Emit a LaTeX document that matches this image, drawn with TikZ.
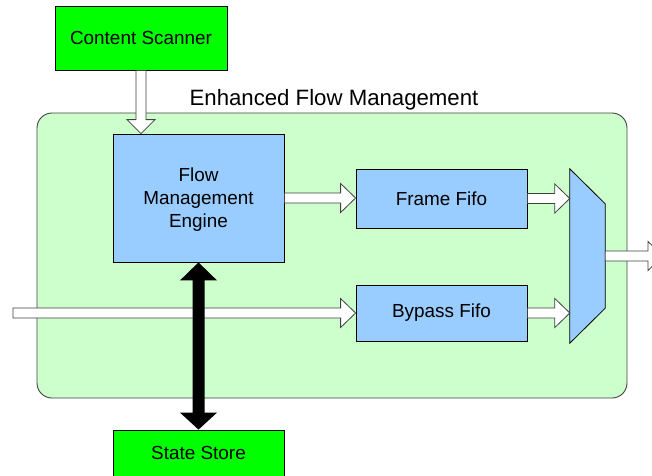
\documentclass[tikz,border=0pt]{standalone}
\usepackage{fontspec}
\setmainfont{Liberation Sans}
\usetikzlibrary{calc}

\definecolor{boxgreen}{HTML}{00FF00}
\definecolor{panelgreen}{HTML}{CCFFCC}
\definecolor{blockblue}{HTML}{99CCFF}
\definecolor{edgegray}{HTML}{404040}

% horizontal hollow block arrow from #1 to the x of #2, at the height of #1
\newcommand\hollowright[2]{%
  \draw[hollowarrow] let \p1=(#1), \p2=(#2) in
    (\x1,\y1+5pt) -- (\x2-15pt,\y1+5pt) -- (\x2-15pt,\y1+14.5pt) -- (\x2,\y1)
    -- (\x2-15pt,\y1-14.5pt) -- (\x2-15pt,\y1-5pt) -- (\x1,\y1-5pt) -- cycle;}
% vertical hollow block arrow pointing down from #1 to the y of #2
\newcommand\hollowdown[2]{%
  \draw[hollowarrow] let \p1=(#1), \p2=(#2) in
    (\x1-5pt,\y1) -- (\x1-5pt,\y2+14pt) -- (\x1-14pt,\y2+14pt) -- (\x1,\y2)
    -- (\x1+14pt,\y2+14pt) -- (\x1+5pt,\y2+14pt) -- (\x1+5pt,\y1) -- cycle;}
% solid two-headed vertical bus between #1 (top) and #2 (bottom)
\newcommand\busarrow[2]{%
  \fill[black] let \p1=(#1), \p2=(#2) in
    (\x1,\y1) -- (\x1+18.5pt,\y1-18pt) -- (\x1+6pt,\y1-18pt) -- (\x1+6pt,\y2+17pt)
    -- (\x1+18.5pt,\y2+17pt) -- (\x1,\y2) -- (\x1-18.5pt,\y2+17pt) -- (\x1-6pt,\y2+17pt)
    -- (\x1-6pt,\y1-18pt) -- (\x1-18.5pt,\y1-18pt) -- cycle;}

\tikzset{
  txt/.style={font=\fontsize{18.9}{23}\selectfont, align=center},
  greenbox/.style={txt, draw=black, line width=0.8pt, fill=boxgreen, inner sep=0pt},
  bluebox/.style={txt, draw=black, line width=0.8pt, fill=blockblue, inner sep=0pt},
  hollowarrow/.style={draw=edgegray, line width=0.8pt, fill=white, line join=miter},
}

\begin{document}
\begin{tikzpicture}[x=1pt, y=-1pt]
\useasboundingbox (0,0) rectangle (652,475);

% enclosing panel
\draw[draw=edgegray, line width=0.9pt, fill=panelgreen, rounded corners=15pt]
  (37,113) rectangle (627,398);
\node[font=\fontsize{22.2}{25}\selectfont, anchor=base] (title) at (334,105) {Enhanced Flow Management};

% blocks
\node[greenbox, minimum width=172, minimum height=64] (cs) at (141,38) {Content Scanner};
\node[bluebox, minimum width=171, minimum height=128] (fme) at (198.5,198) {};
\node[txt] (fmetext) at (198.5,200) {Flow\\Management\\Engine};
\node[bluebox, minimum width=171, minimum height=59] (ff) at (441.5,198.5) {Frame Fifo};
\node[bluebox, minimum width=171, minimum height=56] (bf) at (441.5,313) {Bypass Fifo};
\node[greenbox, minimum width=171, minimum height=46] (ss) at (198.5,453) {State Store};

% multiplexer
\node[minimum width=35, minimum height=174, inner sep=0pt] (mux) at (587.5,256) {};
\draw[draw=black, line width=0.8pt, fill=blockblue]
  (mux.north west) -- ($(mux.north east)+(0,35)$) -- ($(mux.south east)+(0,-35)$)
  -- (mux.south west) -- cycle;

\coordinate (in) at (13,313);
\coordinate (out) at (663,256);

% data paths
\hollowdown{cs.south}{fme.north}
\hollowright{fme.east}{ff.west}
\hollowright{ff.east}{mux.west}
\hollowright{bf.east}{mux.west}
\hollowright{in}{bf.west}
\hollowright{mux.east}{out}

% state access bus
\busarrow{fme.south}{ss.north}
\end{tikzpicture}
\end{document}
